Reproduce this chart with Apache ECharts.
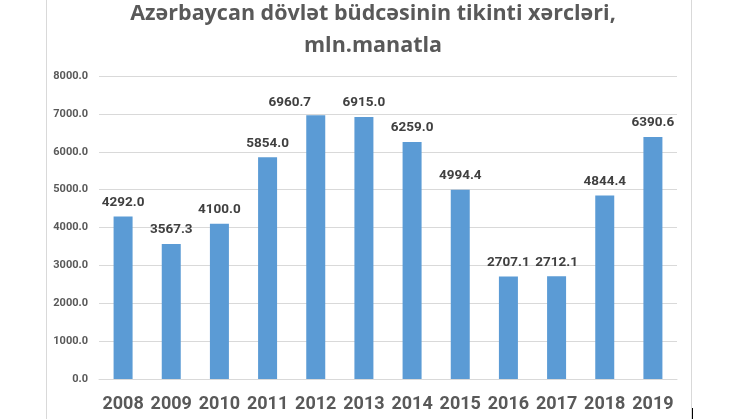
<!DOCTYPE html>
<html><head><meta charset="utf-8">
<script src="https://cdn.jsdelivr.net/npm/echarts@6/dist/echarts.min.js"></script>
<style>html,body{margin:0;padding:0;background:#fff}#c{width:745px;height:419px}</style>
</head><body><div id="c"></div>
<script>
const categories = ['2008','2009','2010','2011','2012','2013','2014','2015','2016','2017','2018','2019'];
const values = [4292.0, 3567.3, 4100.0, 5854.0, 6960.7, 6915.0, 6259.0, 4994.4, 2707.1, 2712.1, 4844.4, 6390.6];
const titleText = 'Azərbaycan dövlət büdcəsinin tikinti xərcləri,\nmln.manatla';
const FONT = 'Roboto, sans-serif';
const TFONT = '"Open Sans", Roboto, sans-serif';
const chart = echarts.init(document.getElementById('c'));
const seriesData = values.map((v, i) => categories[i] === '2012'
  ? { value: v, label: { offset: [-26, 1] } }
  : v);
chart.setOption({
  animation: false,
  title: {
    text: titleText, left: 368, textAlign: 'center', top: -7,
    textStyle: { fontFamily: TFONT, fontSize: 21.5, fontWeight: 'bold', color: '#595959', lineHeight: 32 }
  },
  graphic: [
    { type: 'line', shape: { x1: 46.5, y1: 0, x2: 46.5, y2: 419 }, style: { stroke: '#d9d9d9', lineWidth: 1 } },
    { type: 'line', shape: { x1: 691.5, y1: 0, x2: 691.5, y2: 419 }, style: { stroke: '#d9d9d9', lineWidth: 1 } },
    { type: 'line', shape: { x1: 692.5, y1: 408, x2: 692.5, y2: 419 }, style: { stroke: '#000', lineWidth: 1 } }
  ],
  grid: { left: 99, right: 68, top: 76, bottom: 40, containLabel: false },
  xAxis: {
    type: 'category', data: categories,
    axisLine: { show: true, lineStyle: { color: '#d9d9d9' } },
    axisTick: { show: false },
    axisLabel: { interval: 0, fontFamily: FONT, fontSize: 18, fontWeight: 'bold', color: '#595959', margin: 16 }
  },
  yAxis: {
    type: 'value', min: 0, max: 8000, interval: 1000,
    axisLine: { show: false }, axisTick: { show: false },
    splitLine: { lineStyle: { color: '#d9d9d9' } },
    axisLabel: { fontFamily: FONT, fontSize: 11, fontWeight: 'bold', color: '#595959', margin: 11,
      formatter: v => v.toFixed(1) }
  },
  series: [{
    type: 'bar', data: seriesData, barWidth: 19,
    itemStyle: { color: '#5B9BD5' },
    label: { show: true, position: 'top', distance: 7, fontFamily: FONT, fontSize: 13.5, fontWeight: 'bold', color: '#404040',
      formatter: p => Number(p.value).toFixed(1) }
  }]
});
</script></body></html>
